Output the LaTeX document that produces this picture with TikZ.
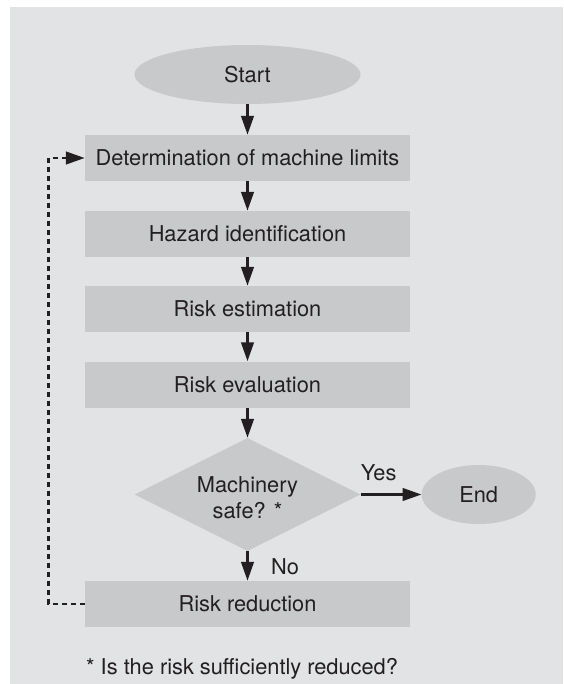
\documentclass[tikz,border=0pt]{standalone}
\usepackage{fontspec}
\setmainfont{TeX Gyre Heros}
\usetikzlibrary{shapes.geometric,arrows.meta}
\definecolor{bg}{RGB}{226,227,229}
\definecolor{shp}{RGB}{200,201,203}
\definecolor{ink}{RGB}{35,31,32}
\begin{document}
\begin{tikzpicture}[x=1pt,y=-1pt,
  every node/.style={font=\fontsize{21.8}{26}\selectfont, text=ink},
  procbox/.style={fill=shp, minimum width=325pt, minimum height=46pt, inner sep=0pt},
  term/.style={ellipse, fill=shp, inner sep=0pt, minimum height=59pt},
  decision/.style={diamond, fill=shp, minimum width=226pt, minimum height=113pt, inner sep=0pt},
  flow/.style={-{Triangle[length=19pt,width=12.5pt]}, line width=2.8pt, draw=ink},
  loopline/.style={-{Triangle[length=19pt,width=12.5pt]}, line width=2.8pt, draw=ink, dash pattern=on 5pt off 4pt}
]
\useasboundingbox (0,0) rectangle (563,684);
\fill[white] (0,0) rectangle (563,684);
\fill[bg] (10,7) rectangle (563,684);

\node[term, minimum width=226pt] (start) at (247.5,74.5) {Start};
\node[procbox] (det) at (247.5,158) {Determination of machine limits};
\node[procbox] (haz) at (247.5,234) {Hazard identification};
\node[procbox] (est) at (247.5,309) {Risk estimation};
\node[procbox] (eva) at (247.5,384.5) {Risk evaluation};
\node[decision] (dec) at (247.5,494.5) {};
\node[align=center] (dectext) at (247.5,498) {Machinery\\safe? *};
\node[term, minimum width=114pt] (end) at (478.7,494.5) {End};
\node[procbox] (red) at (247.5,604) {Risk reduction};

\draw[flow] (start) -- (det);
\draw[flow] (det) -- (haz);
\draw[flow] (haz) -- (est);
\draw[flow] (est) -- (eva);
\draw[flow] (eva) -- (dec.north);
\draw[flow] (dec.south) -- (red.north);
\draw[flow] (dec.east) -- (end.west);
\draw[loopline] (red.west) -- ++(-36,0) coordinate (lc) |- (det.west);

\node[anchor=base] (yes) at (378.6,480) {Yes};
\node[anchor=base] (no) at (285,574) {No};
\node[anchor=base west, inner sep=0pt] (note) at (86,674) {* Is the risk sufficiently reduced?};
\end{tikzpicture}
\end{document}
